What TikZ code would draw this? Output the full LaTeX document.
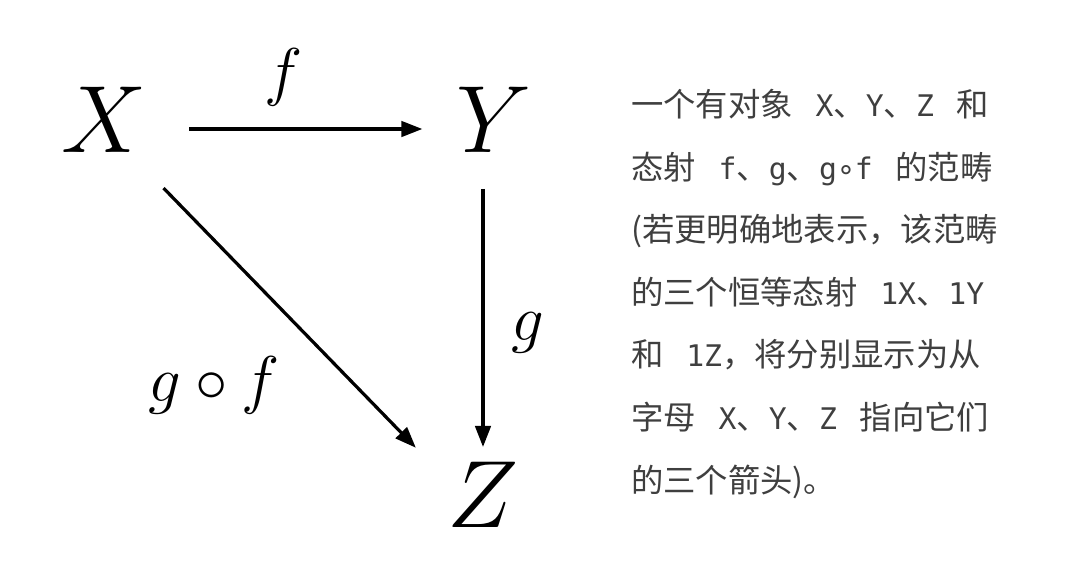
\RequirePackage{fix-cm}
\documentclass[tikz,border=0pt]{standalone}
\usepackage{fontspec}
\usepackage{amsmath}
\usetikzlibrary{arrows.meta,positioning}
\newfontfamily\cjk{Noto Sans CJK SC}
\newfontfamily\mono{DejaVu Sans Mono}[Scale=0.92]
\definecolor{notegray}{HTML}{3F3F3F}
\newcommand{\lat}[1]{{\mono #1}}
\newcommand{\gap}{\hspace{0.7em}}

\tikzset{
    obj/.style={inner sep=0pt, font=\fontsize{68}{68}\selectfont},
    lbl/.style={inner sep=0pt, anchor=base, font=\fontsize{46}{46}\selectfont},
    arr/.style={line width=2.3pt, -{Triangle[length=15pt,width=11pt]}},
    note/.style={inner sep=0pt, anchor=north west, align=left, text=notegray,
        font=\cjk\fontsize{23}{44.5}\selectfont}
}

\begin{document}
\begin{tikzpicture}[x=0.025cm, y=-0.025cm]
    \useasboundingbox (0,0) rectangle (1080,586);
    \node[obj] (X) at (104,120) {$X$};
    \node[obj] (Y) at (494,120) {$Y$};
    \node[obj] (Z) at (483,495) {$Z$};

    \draw[arr, shorten <=30pt, shorten >=24pt] ([yshift=-6.4pt]X.east) -- ([yshift=-6.4pt]X.east -| Y.west);
    \draw[arr, shorten <=25.6pt, shorten >=10.7pt] (Y.south -| Z.north) -- (Z.north);
    \draw[arr, shorten <=17pt, shorten >=32pt] ([yshift=-12.8pt]X.south east) -- ([yshift=-12.8pt]Z.north west);

    \node[lbl] (f) at (284,93) {$f$};
    \node[lbl] (g) at (528,340) {$g$};
    \node[lbl] (gf) at (214,401) {$g\circ f$};

    \node[note] (txt) at (631,89) {
        一个有对象\gap\lat{X}、\lat{Y}、\lat{Z}\gap 和\\
        态射\gap\lat{f}、\lat{g}、\lat{g∘f}\gap 的范畴\\
        (若更明确地表示，该范畴\\
        的三个恒等态射\gap\lat{1X}、\lat{1Y}\\
        和\gap\lat{1Z}，将分别显示为从\\
        字母\gap\lat{X}、\lat{Y}、\lat{Z}\gap 指向它们\\
        的三个箭头)。
    };
\end{tikzpicture}
\end{document}
